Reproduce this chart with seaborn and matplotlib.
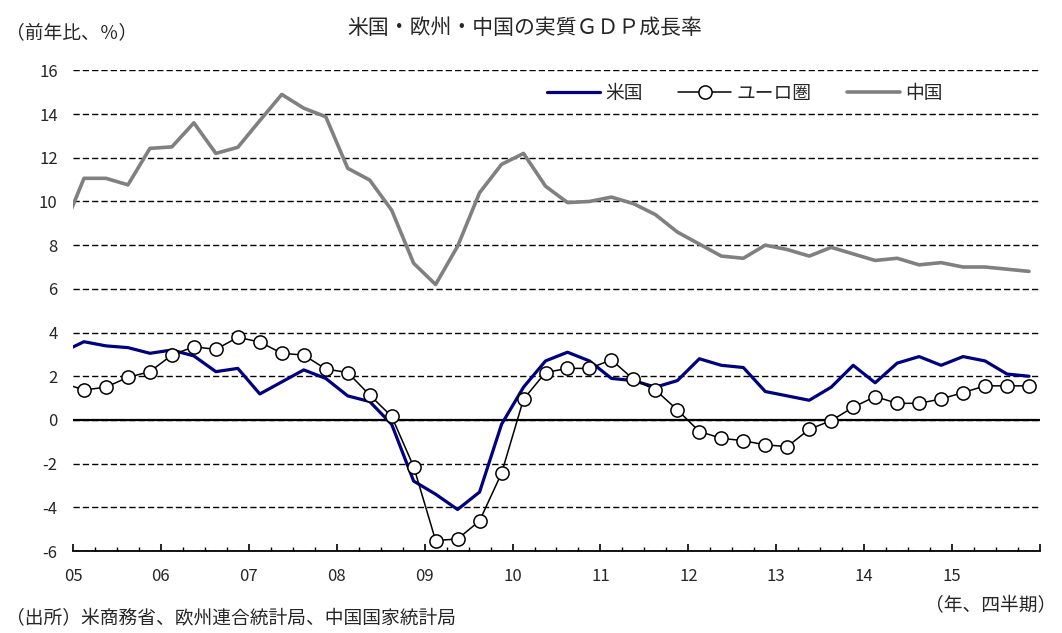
import numpy as np
import pandas as pd
import matplotlib
matplotlib.use('Agg')
import matplotlib.pyplot as plt
from matplotlib.ticker import FixedLocator, MultipleLocator
import seaborn as sns

# ── Data (quarterly, 2004Q4 .. 2015Q4, % y/y) ─────────────────────────────────

quarters = pd.period_range('2004Q4', '2015Q4', freq='Q')

us = [3.1,
      3.58, 3.39, 3.31, 3.05,   3.2, 2.93, 2.21, 2.36,
      1.19, 1.74, 2.29, 1.9,    1.1, 0.84, -0.2, -2.8,
      -3.4, -4.1, -3.3, -0.2,   1.5, 2.7, 3.1, 2.7,
      1.9, 1.8, 1.5, 1.8,       2.8, 2.5, 2.4, 1.3,
      1.1, 0.9, 1.5, 2.5,       1.7, 2.6, 2.9, 2.5,
      2.9, 2.7, 2.1, 2.0]

euro = [1.7,
        1.37, 1.5, 1.95, 2.21,     2.97, 3.35, 3.23, 3.78,
        3.57, 3.05, 2.97, 2.33,    2.17, 1.14, 0.16, -2.14,
        -5.52, -5.45, -4.62, -2.44, 0.95, 2.17, 2.36, 2.36,
        2.75, 1.86, 1.37, 0.46,    -0.53, -0.84, -0.95, -1.14,
        -1.22, -0.43, -0.03, 0.58, 1.07, 0.76, 0.76, 0.96,
        1.25, 1.56, 1.56, 1.56]

china = [8.6,
         11.06, 11.06, 10.76, 12.43,  12.5, 13.6, 12.2, 12.48,
         13.7, 14.9, 14.27, 13.88,    11.52, 10.98, 9.6, 7.17,
         6.2, 7.95, 10.4, 11.7,       12.2, 10.7, 9.95, 10.0,
         10.2, 9.9, 9.4, 8.6,         8.05, 7.5, 7.4, 8.0,
         7.8, 7.5, 7.9, 7.6,          7.3, 7.4, 7.1, 7.2,
         7.0, 7.0, 6.9, 6.8]

series_names = ['米国', 'ユーロ圏', '中国']
year_labels  = ['05', '06', '07', '08', '09', '10', '11', '12', '13', '14', '15', '']

# centre of each quarter slot on a continuous year axis
xpos = np.array([q.year + (q.quarter - 1) / 4 + 0.125 for q in quarters])
df = pd.DataFrame({'x': xpos, 'us': us, 'euro': euro, 'china': china})

# ── Style ─────────────────────────────────────────────────────────────────────

sns.set_style('white')
plt.rcParams['font.family'] = ['Noto Sans CJK JP', 'DejaVu Sans']
plt.rcParams['axes.unicode_minus'] = False

fig = plt.figure(figsize=(10.62, 6.33), dpi=100)
ax = fig.add_axes([73 / 1062, 1 - 551 / 633, (1040 - 73) / 1062, (551 - 70.4) / 633])

# ── Lines ─────────────────────────────────────────────────────────────────────

sns.lineplot(data=df, x='x', y='us', ax=ax, color='#000080', linewidth=2.3,
             label=series_names[0], zorder=3)
sns.lineplot(data=df, x='x', y='euro', ax=ax, color='black', linewidth=1.1,
             marker='o', markersize=9.5, markerfacecolor='white',
             markeredgecolor='black', markeredgewidth=1.1,
             label=series_names[1], zorder=4)
sns.lineplot(data=df, x='x', y='china', ax=ax, color='#808080', linewidth=2.6,
             label=series_names[2], zorder=3)

# ── Axes ──────────────────────────────────────────────────────────────────────

ax.set_xlim(2005, 2016)
ax.set_ylim(-6, 16)
ax.set_xlabel('')
ax.set_ylabel('')

ax.set_yticks(np.arange(-6, 17, 2))
ax.grid(axis='y', linestyle=(0, (4.5, 2.2)), color='black', linewidth=1.0)
ax.grid(axis='x', visible=False)
ax.set_axisbelow(True)
ax.axhline(0, color='black', linewidth=1.6, zorder=2)

ax.xaxis.set_major_locator(FixedLocator(np.arange(2005, 2017)))
ax.set_xticklabels(year_labels)
ax.xaxis.set_minor_locator(MultipleLocator(0.25))
ax.tick_params(axis='x', which='major', direction='in', length=5, width=1.2,
               color='black', pad=12, labelsize=12, bottom=True)
ax.tick_params(axis='x', which='minor', direction='in', length=3, width=1.0,
               color='black', bottom=True)
ax.tick_params(axis='y', length=0, pad=11, labelsize=12)

for side in ['top', 'right', 'left']:
    ax.spines[side].set_visible(False)
ax.spines['bottom'].set_color('black')
ax.spines['bottom'].set_linewidth(1.3)

ax.legend(loc='center', bbox_to_anchor=(745 / 1062, 1 - 93 / 633),
          bbox_transform=fig.transFigure, ncol=3, frameon=False,
          fontsize=13.5, handlelength=2.8, handletextpad=0.3, columnspacing=1.9)

# ── Texts ─────────────────────────────────────────────────────────────────────

fig.text(525 / 1062, 1 - 28 / 633, '米国・欧州・中国の実質ＧＤＰ成長率',
         ha='center', va='center', fontsize=15)
fig.text(6 / 1062, 1 - 33 / 633, '（前年比、％）', ha='left', va='center', fontsize=13.5)
fig.text(6 / 1062, 1 - 619 / 633, '（出所）米商務省、欧州連合統計局、中国国家統計局',
         ha='left', va='center', fontsize=13.5)
fig.text(1056 / 1062, 1 - 606 / 633, '（年、四半期）', ha='right', va='center', fontsize=13.5)

fig.savefig('out.png', dpi=100)
